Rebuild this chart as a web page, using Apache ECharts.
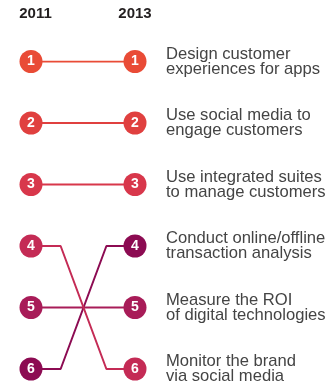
<!DOCTYPE html>
<html>
<head>
<meta charset="utf-8">
<script src="https://cdn.jsdelivr.net/npm/echarts@6/dist/echarts.min.js"></script>
<style>
  html, body { margin: 0; padding: 0; background: #fff; }
</style>
</head>
<body>
<div id="chart" style="width: 335px; height: 389px"></div>
<script>
// years shown on top
const years = ['2011', '2013'];
// activities, ordered by their 2013 rank
const activities = [
  'Design customer\nexperiences for apps',
  'Use social media to\nengage customers',
  'Use integrated suites\nto manage customers',
  'Conduct online/offline\ntransaction analysis',
  'Measure the ROI\nof digital technologies',
  'Monitor the brand\nvia social media'
];
const rank2011 = [1, 2, 3, 6, 5, 4];
const rank2013 = [1, 2, 3, 4, 5, 6];
const colors = ['#e94b36', '#e0403f', '#d8374b', '#8c0b52', '#a81c58', '#c42b55'];

// where the lines bend between the two columns (share of the gap)
const bend = [0.285, 0.725];

const chart = echarts.init(document.getElementById('chart'));

const series = activities.map((name, i) => {
  const a = rank2011[i], b = rank2013[i];
  const endPoint = (x, r) => ({ value: [x, r], symbol: 'circle',
    label: { show: true } });
  const midPoint = (x, r) => ({ value: [x, r], symbol: 'none' });
  return {
    name: name,
    type: 'line',
    data: [endPoint(0, a), midPoint(bend[0], a), midPoint(bend[1], b), endPoint(1, b)],
    symbolSize: 23,
    color: colors[i],
    lineStyle: { width: 2, color: colors[i] },
    itemStyle: { color: colors[i], borderWidth: 0 },
    label: {
      show: false,
      position: 'inside',
      formatter: p => p.value[1],
      color: '#fff',
      fontWeight: 'bold',
      fontSize: 14,
      fontFamily: 'Liberation Sans'
    },
    emphasis: { disabled: true },
    animation: false,
    z: 2 + i
  };
});

const option = {
  grid: { left: 31, right: 200, top: 61.5, bottom: 20 },
  xAxis: {
    type: 'value',
    position: 'top',
    min: 0,
    max: 1,
    interval: 1,
    axisLine: { show: false },
    axisTick: { show: false },
    splitLine: { show: false },
    axisLabel: {
      margin: 40,
      formatter: v => (v === 0 ? '{a|' : '{b|') + years[v] + '}',
      rich: {
        a: { padding: [0, 0, 0, 9] },
        b: {}
      },
      color: '#231f20',
      fontWeight: 'bold',
      fontSize: 15,
      fontFamily: 'Liberation Sans'
    }
  },
  yAxis: {
    type: 'value',
    position: 'right',
    inverse: true,
    min: 1,
    max: 6,
    interval: 1,
    axisLine: { show: false },
    axisTick: { show: false },
    splitLine: { show: false },
    axisLabel: {
      margin: 31,
      formatter: v => activities[rank2013.indexOf(v)],
      color: '#444',
      fontSize: 16.6,
      lineHeight: 15,
      fontFamily: 'Liberation Sans'
    }
  },
  series: series
};
chart.setOption(option);
</script>
</body>
</html>
